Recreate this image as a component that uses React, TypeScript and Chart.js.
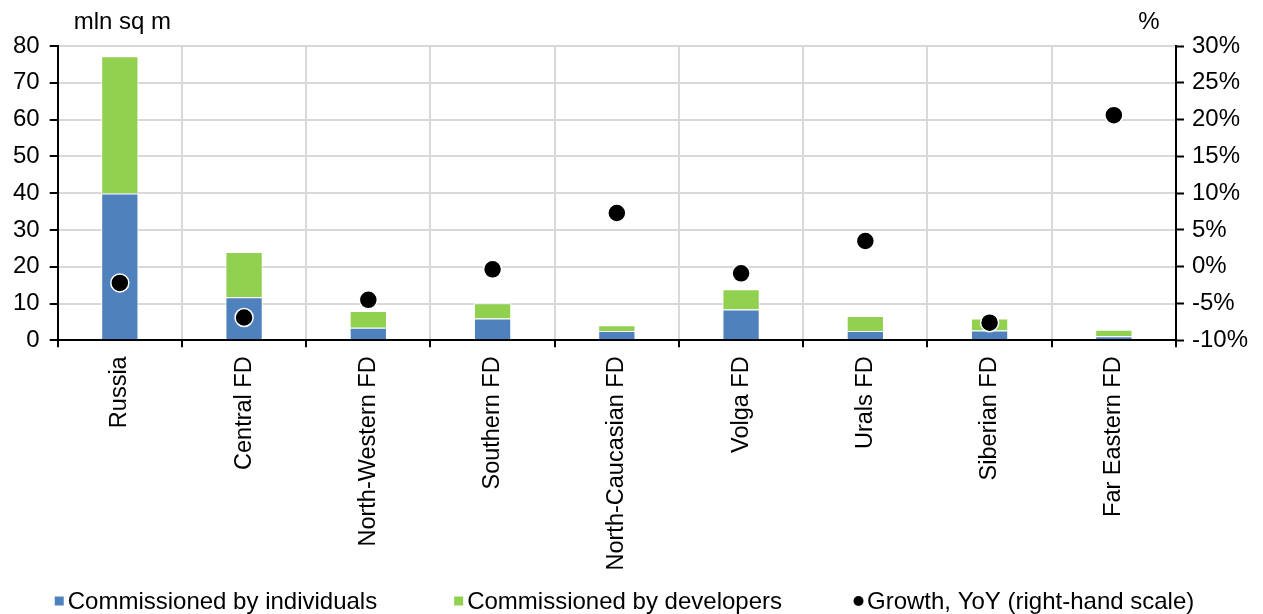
import React, { useEffect, useRef } from "react";
import { Chart, registerables } from "chart.js";

Chart.register(...registerables);

const categories = [
  "Russia",
  "Central FD",
  "North-Western FD",
  "Southern FD",
  "North-Caucasian FD",
  "Volga FD",
  "Urals FD",
  "Siberian FD",
  "Far Eastern FD",
];
const byIndividuals = [39.9, 11.7, 3.4, 5.9, 2.5, 8.4, 2.5, 2.7, 1.1];
const byDevelopers = [37.3, 12.3, 4.6, 4.2, 1.6, 5.5, 4.1, 3.2, 1.8];
const growthYoY = [-2.2, -6.9, -4.5, -0.35, 7.3, -0.9, 3.5, -7.6, 20.6];

const leftTicks = [0, 10, 20, 30, 40, 50, 60, 70, 80];
const rightTicks = [-10, -5, 0, 5, 10, 15, 20, 25, 30];

const FONT = "'Liberation Sans', Arial, sans-serif";
const FS = 24;

const axisTitles = {
  id: "axisTitles",
  afterDraw(chart: any) {
    const { ctx, chartArea } = chart;
    ctx.save();
    ctx.fillStyle = "#000";
    ctx.font = `${FS}px ${FONT}`;
    ctx.textBaseline = "middle";
    ctx.textAlign = "left";
    ctx.fillText("mln sq m", chartArea.left + 16, 22);
    ctx.textAlign = "center";
    ctx.fillText("%", chartArea.right - 27, 22);
    ctx.restore();
  },
};

const customLegend = {
  id: "customLegend",
  afterDraw(chart: any) {
    const { ctx, width, height } = chart;
    const items = chart.data.datasets.map((d: any) => ({
      text: d.label,
      color: d.type === "line" ? d.pointBackgroundColor : d.backgroundColor,
      circle: d.type === "line",
    }));
    ctx.save();
    ctx.font = `${FS}px ${FONT}`;
    ctx.textBaseline = "middle";
    ctx.textAlign = "left";
    const icon = 9;
    const gapIcon = 4;
    const gaps = [77, 72];
    const widths = items.map((it: any) => icon + gapIcon + ctx.measureText(it.text).width);
    const total =
      widths.reduce((a: number, b: number) => a + b, 0) + gaps.reduce((a, b) => a + b, 0);
    let x = (width - total) / 2 - 7;
    const y = height - 13;
    items.forEach((it: any, i: number) => {
      ctx.fillStyle = it.color;
      if (it.circle) {
        ctx.beginPath();
        ctx.arc(x + icon / 2, y, 5, 0, Math.PI * 2);
        ctx.fill();
      } else {
        ctx.fillRect(x, y - icon / 2, icon, icon);
      }
      ctx.fillStyle = "#000";
      ctx.fillText(it.text, x + icon + gapIcon, y + 1);
      x += widths[i] + (gaps[i] || 0);
    });
    ctx.restore();
  },
};

export default function App() {
  const ref = useRef<HTMLCanvasElement | null>(null);
  useEffect(() => {
    if (!ref.current) return;
    const chart = new Chart(ref.current, {
      type: "bar",
      data: {
        labels: categories,
        datasets: [
          {
            type: "bar",
            label: "Commissioned by individuals",
            data: byIndividuals,
            backgroundColor: "#4f81bd",
            borderColor: "#ffffff",
            borderWidth: 1,
            borderSkipped: "bottom",
            yAxisID: "y",
            order: 2,
            barPercentage: 0.3,
            categoryPercentage: 1,
          } as any,
          {
            type: "bar",
            label: "Commissioned by developers",
            data: byDevelopers,
            backgroundColor: "#92d050",
            borderColor: "#ffffff",
            borderWidth: 1,
            borderSkipped: "bottom",
            yAxisID: "y",
            order: 2,
            barPercentage: 0.3,
            categoryPercentage: 1,
          } as any,
          {
            type: "line",
            label: "Growth, YoY (right-hand scale)",
            data: growthYoY,
            showLine: false,
            pointStyle: "circle",
            pointRadius: 9,
            pointBackgroundColor: "#000",
            pointBorderColor: "#fff",
            pointBorderWidth: 1.5,
            backgroundColor: "#000",
            borderColor: "#000",
            yAxisID: "y1",
            order: 1,
          } as any,
        ],
      },
      options: {
        animation: false,
        responsive: true,
        maintainAspectRatio: false,
        layout: { padding: { top: 46, right: 7, left: 3, bottom: 34.5 } },
        plugins: {
          title: { display: false },
          tooltip: { enabled: false },
          legend: { display: false },
        },
        scales: {
          x: {
            stacked: true,
            offset: true,
            grid: {
              offset: true,
              color: "#d9d9d9",
              lineWidth: 2,
              tickColor: "#000",
              tickLength: 7,
              tickWidth: 2,
            },
            border: { color: "#000", width: 2 },
            ticks: {
              minRotation: 90,
              maxRotation: 90,
              autoSkip: false,
              color: "#000",
              padding: 9,
              font: { family: FONT, size: 23.5 },
            },
          },
          y: {
            stacked: true,
            position: "left",
            min: 0,
            max: 80,
            afterBuildTicks: (s: any) => {
              s.ticks = leftTicks.map((v) => ({ value: v }));
            },
            grid: {
              color: "#d9d9d9",
              lineWidth: 2,
              tickColor: "#000",
              tickLength: 8,
              tickWidth: 2,
            },
            border: { color: "#000", width: 2 },
            ticks: {
              color: "#000",
              padding: 10,
              font: { family: FONT, size: FS },
            },
          },
          y1: {
            position: "right",
            min: -10,
            max: 30,
            afterBuildTicks: (s: any) => {
              s.ticks = rightTicks.map((v) => ({ value: v }));
            },
            grid: {
              drawOnChartArea: false,
              tickColor: "#000",
              tickLength: 8,
              tickWidth: 2,
            },
            border: { color: "#000", width: 2 },
            ticks: {
              color: "#000",
              padding: 8,
              font: { family: FONT, size: FS },
              callback: (v: any) => `${v}%`,
            },
          },
        },
      },
      plugins: [axisTitles, customLegend],
    });
    return () => chart.destroy();
  }, []);
  return (
    <div
      style={{
        position: "fixed",
        left: 0,
        top: 0,
        width: 1263,
        height: 614,
        background: "#fff",
      }}
    >
      <canvas ref={ref} />
    </div>
  );
}
